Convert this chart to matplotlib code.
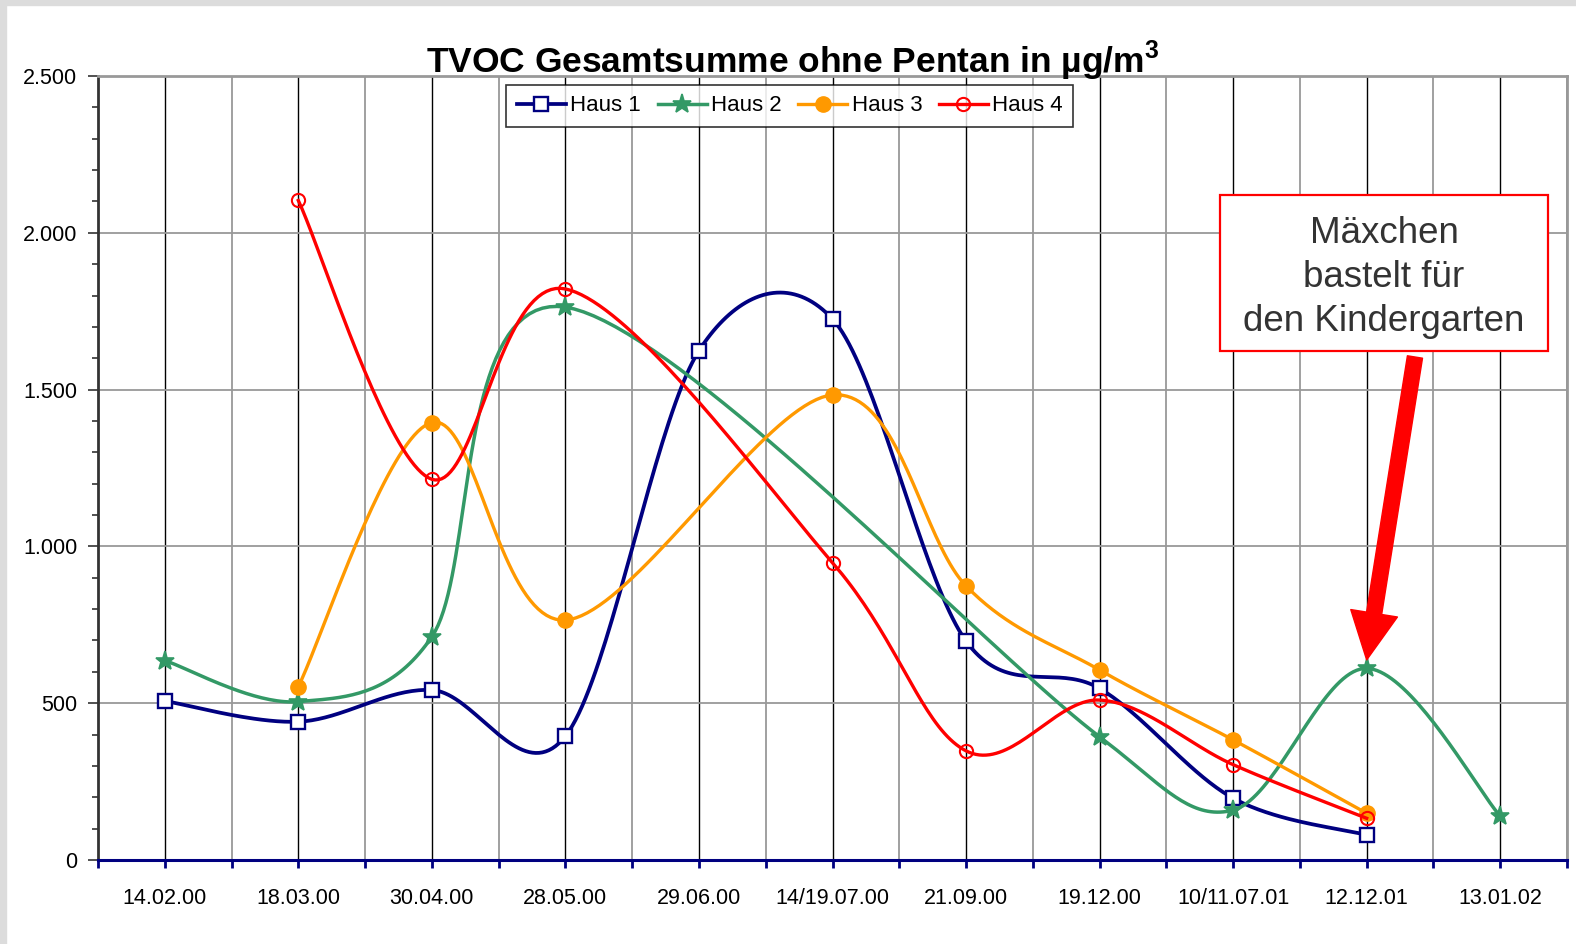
import numpy as np
import matplotlib
matplotlib.use("Agg")
import matplotlib.pyplot as plt
from matplotlib.patches import Rectangle
from matplotlib.ticker import FuncFormatter, MultipleLocator

plt.rcParams['font.family'] = ['Liberation Sans', 'DejaVu Sans']
plt.rcParams['mathtext.fontset'] = 'custom'
plt.rcParams['mathtext.rm'] = 'Liberation Sans'
plt.rcParams['mathtext.bf'] = 'Liberation Sans:bold'

# Messtermine
dates = ["14.02.00", "18.03.00", "30.04.00", "28.05.00", "29.06.00", "14/19.07.00",
         "21.09.00", "19.12.00", "10/11.07.01", "12.12.01", "13.01.02"]

# TVOC ohne Pentan in µg/m³ (nan = nicht gemessen)
nan = np.nan
haus1 = [507, 441, 542, 395, 1624, 1725, 698, 547, 197, 80, nan]
haus2 = [636, 505, 712, 1763, nan, nan, nan, 393, 159, 611, 140]
haus3 = [nan, 553, 1395, 765, nan, 1483, 874, 606, 383, 149, nan]
haus4 = [nan, 2103, 1214, 1821, nan, 948, 348, 510, 304, 133, nan]

series = [
    ("Haus 1", haus1, dict(color="#000080", lw=2.7, marker="s", ms=10, mfc="white", mec="#000080", mew=1.7)),
    ("Haus 2", haus2, dict(color="#339966", lw=2.5, marker="*", ms=14, mfc="#339966", mec="#339966", mew=1.2)),
    ("Haus 3", haus3, dict(color="#FF9900", lw=2.4, marker="o", ms=11, mfc="#FF9900", mec="#FF9900", mew=1.0)),
    ("Haus 4", haus4, dict(color="#FF0000", lw=2.4, marker="o", ms=9.5, mfc="none", mec="#FF0000", mew=1.5)),
]

# Pixel pro Einheit, damit die Glaettung im Bildraum gerechnet wird
SX, SY = 133.5, 784 / 2500


def smooth(xs, ys, n=40):
    # Bezier-Glaettung (Kontrollpunkte mit Faktor 1/6, begrenzt auf halbe Sehnenlaenge)
    pts = np.column_stack([np.asarray(xs) * SX, np.asarray(ys) * SY])
    P = np.vstack([pts[0], pts, pts[-1]])
    t = np.linspace(0, 1, n, endpoint=False)[:, None]
    out = []

    def clamp(v, lim):
        d = np.hypot(*v)
        return v * (lim / d) if d > lim else v

    for i in range(1, len(P) - 2):
        p0, p1, p2, p3 = P[i - 1], P[i], P[i + 1], P[i + 2]
        half = np.hypot(*(p2 - p1)) / 2
        c1 = p1 + clamp((p2 - p0) / 6, half)
        c2 = p2 - clamp((p3 - p1) / 6, half)
        out.append((1 - t) ** 3 * p1 + 3 * (1 - t) ** 2 * t * c1 + 3 * (1 - t) * t ** 2 * c2 + t ** 3 * p2)
    out.append(pts[-1:])
    res = np.vstack(out)
    return res / [SX, SY], n


fig = plt.figure(figsize=(15.76, 9.44), dpi=100)
fig.patches.append(Rectangle((0, 1 - 5 / 944), 1, 5 / 944, transform=fig.transFigure, color="#dcdcdc", zorder=0))
fig.patches.append(Rectangle((0, 0), 6 / 1576, 1, transform=fig.transFigure, color="#dcdcdc", zorder=0))

ax = fig.add_axes([98 / 1576, 1 - 860 / 944, 1469 / 1576, 784 / 944])

x = np.arange(len(dates))
for name, vals, st in series:
    vals = np.array(vals, dtype=float)
    ok = ~np.isnan(vals)
    curve, n = smooth(x[ok], vals[ok])
    ax.plot(curve[:, 0], curve[:, 1], label=name, markevery=list(range(0, len(curve), n)),
            solid_joinstyle="round", zorder=3, **st)

ax.set_xlim(-0.5, len(dates) - 0.5)
ax.set_ylim(0, 2500)

ax.set_xticks(x)
ax.set_xticklabels(dates, fontsize=15.5)
ax.set_xticks(np.arange(-0.5, len(dates), 1), minor=True)
ax.yaxis.set_major_locator(MultipleLocator(500))
ax.yaxis.set_minor_locator(MultipleLocator(100))
ax.yaxis.set_major_formatter(FuncFormatter(lambda v, p: f"{int(v):,}".replace(",", ".")))

ax.tick_params(axis="x", which="both", length=6, width=2, color="#000080", direction="out", pad=14)
ax.tick_params(axis="y", which="major", length=7, width=1.2, color="#333333", pad=8, labelsize=15.5)
ax.tick_params(axis="y", which="minor", length=4, width=1.2, color="#333333")

ax.grid(axis="x", which="major", color="black", lw=1.0, zorder=1)
ax.grid(axis="x", which="minor", color="#999999", lw=1.3, zorder=1)
ax.grid(axis="y", which="major", color="#999999", lw=1.3, zorder=1)
ax.set_axisbelow(True)

ax.spines["bottom"].set_color("#000080")
ax.spines["bottom"].set_linewidth(2.2)
ax.spines["left"].set_color("#333333")
ax.spines["left"].set_linewidth(2.0)
for s in ("top", "right"):
    ax.spines[s].set_color("#999999")
    ax.spines[s].set_linewidth(2.0)

ax.text(0.473, 1.004, "TVOC Gesamtsumme ohne Pentan in µg/m$^{\\mathbf{3}}$", transform=ax.transAxes,
        ha="center", va="baseline", fontsize=25.5, fontweight="bold")

leg = ax.legend(loc="center", bbox_to_anchor=(0.471, 0.962), ncol=4, fontsize=16, frameon=True,
                fancybox=False, handlelength=2.2, handletextpad=0.2, columnspacing=0.75,
                borderpad=0.47, borderaxespad=0)
leg.get_frame().set_edgecolor("black")
leg.get_frame().set_linewidth(1.2)
leg.set_zorder(5)

# Hinweis auf den Ausreisser bei Haus 2
ax.add_patch(Rectangle((0.7638, 0.6492), 0.2233, 0.199, transform=ax.transAxes, facecolor="white",
                       edgecolor="#FF0000", lw=1.6, zorder=6))
ax.text(0.8754, 0.743, "Mäxchen\nbastelt für\nden Kindergarten", transform=ax.transAxes,
        ha="center", va="center", fontsize=26.5, color="#333333", linespacing=1.33, zorder=7)
ax.annotate("", xy=(9, haus2[9] + 27), xycoords="data", xytext=(0.8965, 0.6416), textcoords="axes fraction",
            arrowprops=dict(arrowstyle="simple,head_length=34,head_width=34,tail_width=11",
                            mutation_scale=1, color="#FF0000", shrinkA=0, shrinkB=0),
            zorder=6)

fig.savefig("out.png", dpi=100)
